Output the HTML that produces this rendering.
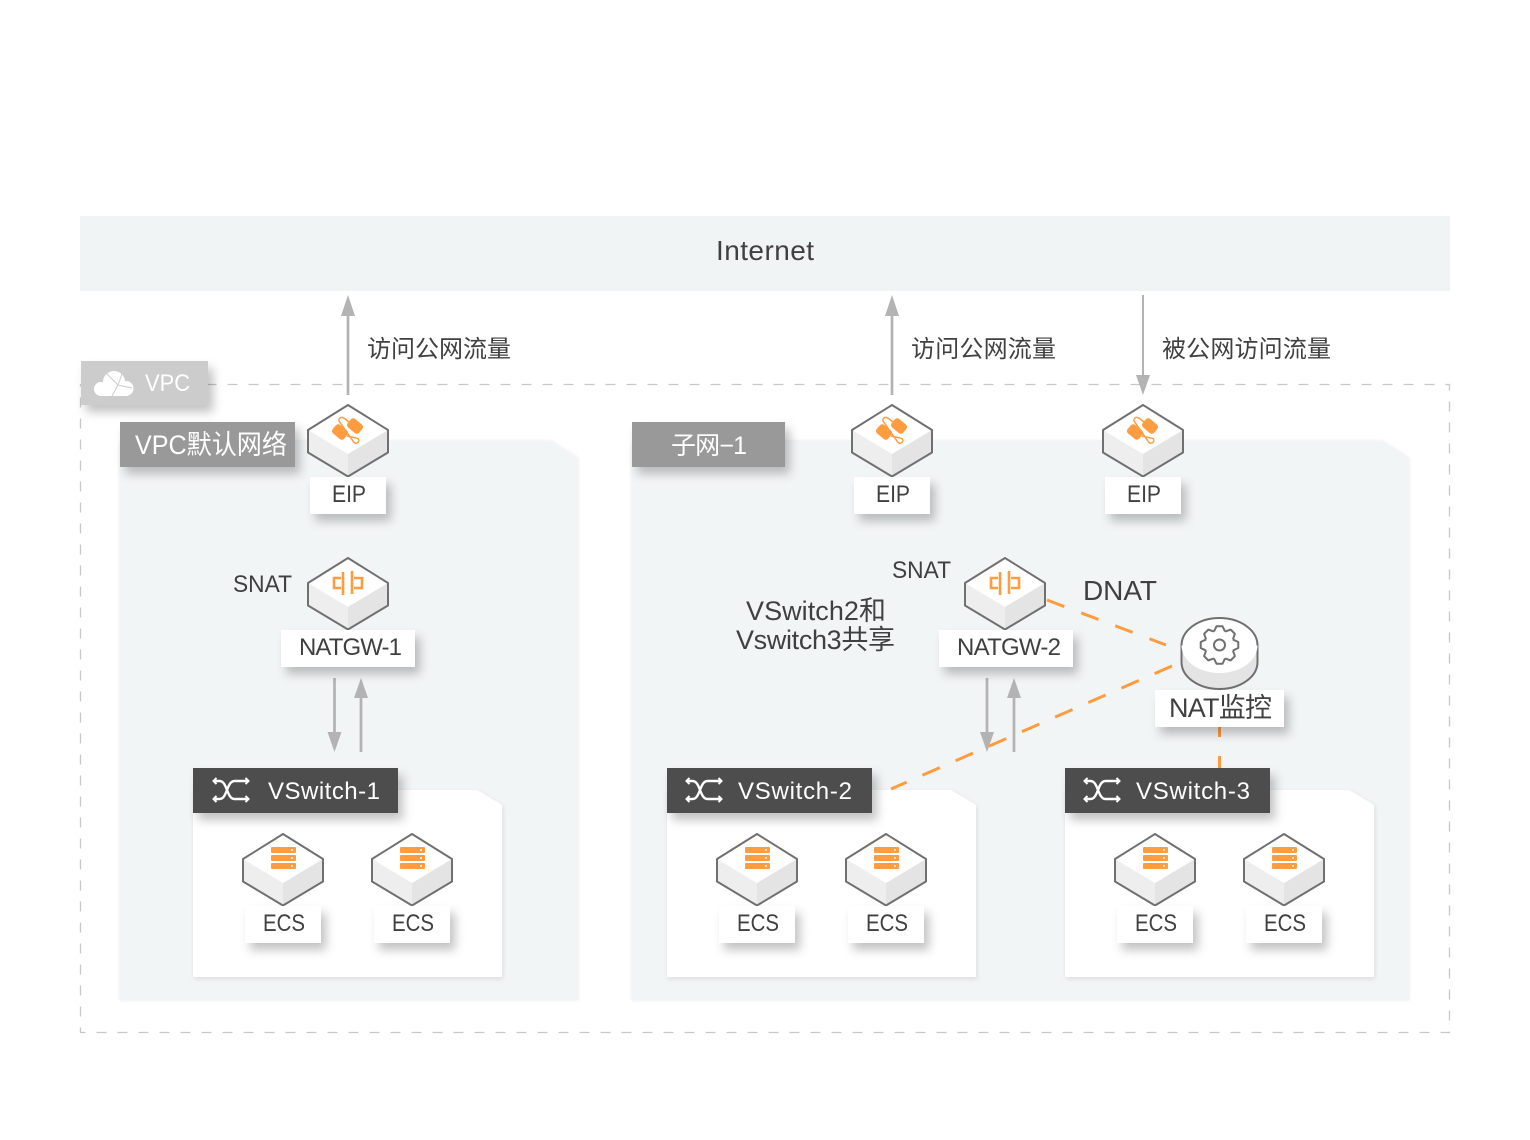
<!DOCTYPE html>
<html><head><meta charset="utf-8"><style>
html,body{margin:0;padding:0;background:#fff}
svg{display:block}
text{font-family:"Liberation Sans","Noto Sans CJK SC",sans-serif;fill:#404040}
</style></head><body>
<svg width="1530" height="1140" viewBox="0 0 1530 1140" xmlns="http://www.w3.org/2000/svg">
<defs>
<filter id="s1" x="-30%" y="-40%" width="170%" height="200%"><feDropShadow dx="5" dy="7" stdDeviation="5" flood-color="#000" flood-opacity=".24"/></filter>
<filter id="s2" x="-5%" y="-5%" width="110%" height="110%"><feDropShadow dx="0" dy="0" stdDeviation="1.5" flood-color="#000" flood-opacity=".1"/></filter>
<filter id="s3" x="-10%" y="-10%" width="120%" height="120%"><feDropShadow dx="1" dy="2" stdDeviation="2.5" flood-color="#000" flood-opacity=".1"/></filter>
<g id="hex">
<path d="M0 0L40 25L0 49L-40 25Z" fill="#fff"/>
<path d="M-40 25L0 49V71.500L-40 47.500Z" fill="#eeeeee"/>
<path d="M40 25L0 49V71.500L40 47.500Z" fill="#e4e4e4"/>
<path d="M0 0L40 25V47.500L0 71.500L-40 47.500V25Z" fill="none" stroke="#707070" stroke-width="2" stroke-linejoin="round"/>
</g>
<g id="eipi">
<rect x="-15.500" y="21.500" width="15" height="11" rx="3" transform="rotate(40 -8 27)" fill="#ff9c40"/>
<rect x="-0.500" y="15.500" width="15" height="11" rx="3" transform="rotate(40 7 21)" fill="#ff9c40"/>
<path d="M1 17L-3.500 13.500C-7 10.500 -11 14 -8 17.500L6 37.500C9 40 12.500 36 10 33.500L-1 31" fill="none" stroke="#ff9c40" stroke-width="1.5"/>
</g>
<g id="nati" fill="none" stroke="#ff9c40" stroke-width="2.6">
<path d="M-7 20H-14V30H-7M-5 14V37M4 13V36M6 20H14V30H6"/>
</g>
<g id="ecsi">
<rect x="-12" y="13" width="25" height="6" rx="1" fill="#ff9c40"/>
<rect x="-12" y="21" width="25" height="6" rx="1" fill="#ff9c40"/>
<rect x="-12" y="29" width="25" height="6" rx="1" fill="#ff9c40"/>
<circle cx="9" cy="16" r="1" fill="#fff"/><circle cx="9" cy="24" r="1" fill="#fff"/><circle cx="9" cy="32" r="1" fill="#fff"/>
</g>
<g id="sw" fill="none" stroke="#fff" stroke-width="2.4">
<path d="M1 3H7C15 3 14 21 22 21H35M1 21H7C15 21 14 3 22 3H35"/>
<path d="M4 0L1 3L4 6M4 18L1 21L4 24M33 0L36 3L33 6M33 18L36 21L33 24" stroke-width="2"/>
</g>
<path id="tooth" d="M-5.55 -13.4L-2.97 -18.77H2.97L5.55 -13.4" fill="none" stroke="#707070" stroke-width="2" stroke-linejoin="round"/>
</defs>

<rect x="80" y="216" width="1370" height="75" fill="#f1f4f5"/>
<text x="716" y="260" font-size="28" textLength="98" lengthAdjust="spacing">Internet</text>

<rect x="80.500" y="384.500" width="1369" height="648" fill="none" stroke="#c8c8c8" stroke-width="1.3" stroke-dasharray="10 11"/>

<path d="M120 441H551L578 458V1000H120Z" fill="#f2f5f6" filter="url(#s2)"/>
<path d="M632 441H1382L1409 458V1000H632Z" fill="#f2f5f6" filter="url(#s2)"/>

<path d="M193 790H477L502 805V977H193Z" fill="#fff" filter="url(#s3)"/>
<path d="M667 790H951L976 805V977H667Z" fill="#fff" filter="url(#s3)"/>
<path d="M1065 790H1349L1374 805V977H1065Z" fill="#fff" filter="url(#s3)"/>

<rect x="81" y="361" width="127" height="44" fill="#cccccc" filter="url(#s1)"/>
<g fill="#fff">
<circle cx="101" cy="389" r="7"/><circle cx="114" cy="382" r="11"/><circle cx="126" cy="388.500" r="7.500"/><rect x="101" y="386" width="25" height="10"/>
</g>
<path d="M106 373L118 385L112 396M122 374L118 385L132 388" fill="none" stroke="#ccc" stroke-width="1"/>
<text x="145" y="391" font-size="24" textLength="45" lengthAdjust="spacingAndGlyphs" style="fill:#fff">VPC</text>

<rect x="120" y="422" width="175" height="45" fill="#999" filter="url(#s1)"/>
<text x="135" y="454" font-size="27" textLength="152" lengthAdjust="spacingAndGlyphs" style="fill:#fff">VPC默认网络</text>
<rect x="632" y="422" width="153" height="45" fill="#999" filter="url(#s1)"/>
<text x="671" y="454" font-size="25" textLength="76" style="fill:#fff">子网−1</text>

<g stroke="#b3b3b3" stroke-width="2.700" fill="#b3b3b3">
<path d="M348 310V395M892 310V395M334.500 678V735M361 695V752M987 678V735M1014 695V752" fill="none"/>
<path d="M1143 295V380" fill="none" stroke-width="2"/>
<path stroke="none" d="M348 295L355 316H341ZM892 295L899 316H885ZM1143 395L1136 375H1150ZM334.500 752L327.500 732H341.500ZM361 678L368 698H354ZM987 752L980 732H994ZM1014 678L1021 698H1007Z"/>
</g>

<g stroke="#ff9c40" stroke-width="3" fill="none">
<path d="M1047 600L1166 645" stroke-dasharray="18.500 18"/>
<path d="M1172 666L891 789" stroke-dasharray="19 17.200"/>
<path d="M1219.500 719V768" stroke-dasharray="18 19"/>
</g>

<text x="367" y="357" font-size="24" textLength="144">访问公网流量</text>
<text x="911" y="357" font-size="24" textLength="145">访问公网流量</text>
<text x="1162" y="357" font-size="24" textLength="169">被公网访问流量</text>

<use href="#hex" x="348" y="405"/><use href="#eipi" x="348" y="405"/>
<use href="#hex" x="892" y="405"/><use href="#eipi" x="892" y="405"/>
<use href="#hex" x="1143" y="405"/><use href="#eipi" x="1143" y="405"/>
<use href="#hex" x="348" y="558"/><use href="#nati" x="348" y="558"/>
<use href="#hex" x="1005" y="558"/><use href="#nati" x="1005" y="558"/>
<use href="#hex" x="283" y="834"/><use href="#ecsi" x="283" y="834"/>
<use href="#hex" x="412" y="834"/><use href="#ecsi" x="412" y="834"/>
<use href="#hex" x="757" y="834"/><use href="#ecsi" x="757" y="834"/>
<use href="#hex" x="886" y="834"/><use href="#ecsi" x="886" y="834"/>
<use href="#hex" x="1155" y="834"/><use href="#ecsi" x="1155" y="834"/>
<use href="#hex" x="1284" y="834"/><use href="#ecsi" x="1284" y="834"/>

<path d="M1181.500 645V662A38 27 0 0 0 1257.500 662V645Z" fill="#e4e4e4" stroke="#707070" stroke-width="2"/>
<ellipse cx="1219.500" cy="645.500" rx="38" ry="27.500" fill="#fff" stroke="none"/>
<path d="M1181.500 645.500A38 27.500 0 0 1 1257.500 645.500" fill="none" stroke="#707070" stroke-width="2"/>
<g transform="translate(1219.500 645)">
<use href="#tooth"/><use href="#tooth" transform="rotate(45)"/><use href="#tooth" transform="rotate(90)"/><use href="#tooth" transform="rotate(135)"/><use href="#tooth" transform="rotate(180)"/><use href="#tooth" transform="rotate(225)"/><use href="#tooth" transform="rotate(270)"/><use href="#tooth" transform="rotate(315)"/>
<circle r="5.500" fill="none" stroke="#707070" stroke-width="2"/>
</g>

<g fill="#fff" filter="url(#s1)">
<rect x="310" y="477" width="76" height="37"/>
<rect x="854" y="477" width="76" height="37"/>
<rect x="1105" y="477" width="76" height="37"/>
<rect x="281" y="630" width="134" height="37"/>
<rect x="939" y="630" width="134" height="37"/>
<rect x="1155" y="690" width="129" height="37"/>
<rect x="245" y="906" width="76" height="37"/>
<rect x="374" y="906" width="76" height="37"/>
<rect x="719" y="906" width="76" height="37"/>
<rect x="848" y="906" width="76" height="37"/>
<rect x="1117" y="906" width="76" height="37"/>
<rect x="1246" y="906" width="76" height="37"/>
</g>

<g fill="#4d4d4d" filter="url(#s1)">
<rect x="193" y="768" width="205" height="45"/>
<rect x="667" y="768" width="205" height="45"/>
<rect x="1065" y="768" width="205" height="45"/>
</g>
<use href="#sw" x="212.500" y="778"/><use href="#sw" x="685.500" y="778"/><use href="#sw" x="1083.500" y="778"/>
<text x="268" y="799" font-size="24" textLength="112" style="fill:#fff">VSwitch-1</text>
<text x="738" y="799" font-size="24" textLength="114" style="fill:#fff">VSwitch-2</text>
<text x="1136" y="799" font-size="24" textLength="114" style="fill:#fff">VSwitch-3</text>

<g font-size="24">
<text x="332" y="502" textLength="34" lengthAdjust="spacingAndGlyphs">EIP</text>
<text x="876" y="502" textLength="34" lengthAdjust="spacingAndGlyphs">EIP</text>
<text x="1127" y="502" textLength="34" lengthAdjust="spacingAndGlyphs">EIP</text>
<text x="299" y="655" textLength="103">NATGW-1</text>
<text x="957" y="655" textLength="104">NATGW-2</text>
<text x="233" y="592" textLength="59" lengthAdjust="spacingAndGlyphs">SNAT</text>
<text x="892" y="578" textLength="59" lengthAdjust="spacingAndGlyphs">SNAT</text>
<text x="263" y="931" textLength="42" lengthAdjust="spacingAndGlyphs">ECS</text>
<text x="392" y="931" textLength="42" lengthAdjust="spacingAndGlyphs">ECS</text>
<text x="737" y="931" textLength="42" lengthAdjust="spacingAndGlyphs">ECS</text>
<text x="866" y="931" textLength="42" lengthAdjust="spacingAndGlyphs">ECS</text>
<text x="1135" y="931" textLength="42" lengthAdjust="spacingAndGlyphs">ECS</text>
<text x="1264" y="931" textLength="42" lengthAdjust="spacingAndGlyphs">ECS</text>
</g>
<text x="1169" y="717" font-size="27" textLength="103">NAT监控</text>
<text x="1083" y="600" font-size="28" textLength="74">DNAT</text>
<text x="746" y="620" font-size="27" textLength="140">VSwitch2和</text>
<text x="736" y="649" font-size="27" textLength="159">Vswitch3共享</text>
</svg>
</body></html>
